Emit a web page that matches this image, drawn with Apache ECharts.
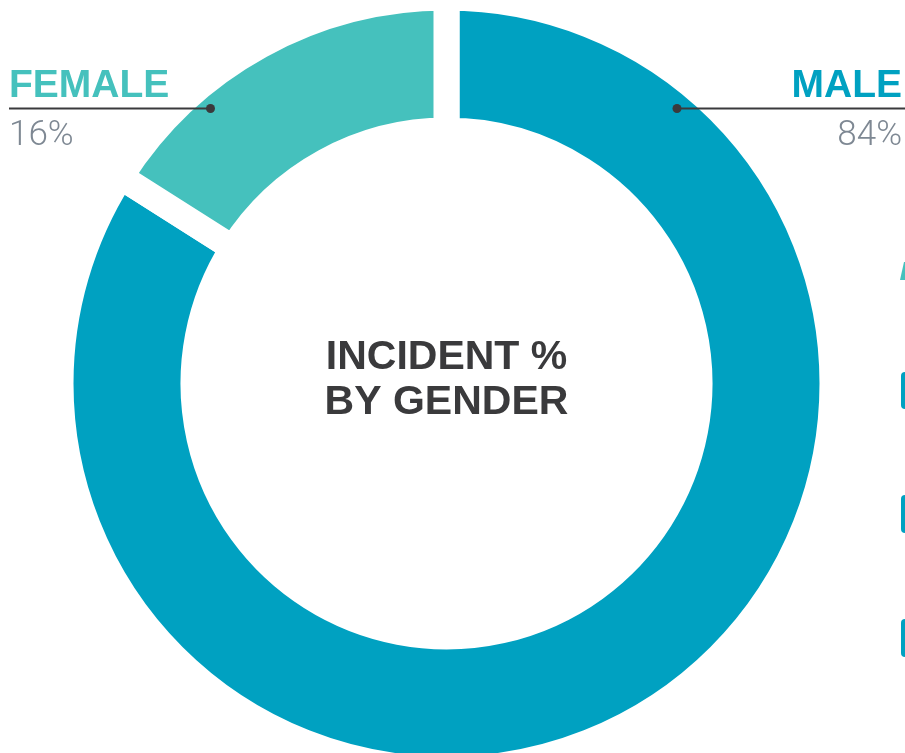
<!DOCTYPE html>
<html>
<head>
<meta charset="utf-8">
<title>Incident % by Gender</title>
<script src="https://cdn.jsdelivr.net/npm/echarts@6/dist/echarts.min.js"></script>
<style>
  html, body { margin: 0; padding: 0; background: #ffffff; }
  #chart { width: 905px; height: 753px; }
</style>
</head>
<body>
<div id="chart"></div>
<script>
// Incident share by gender
const genders = ['MALE', 'FEMALE'];
const shares = [84, 16];
const genderColors = ['#00a1c1', '#45c1bd'];
const centerTitle = ['INCIDENT %', 'BY GENDER'];

const cx = 446.5, cy = 383.5;
const gap = 26;            // white gap between the two slices
const outerR = 373, innerR = 266;

const boldFont = '"Liberation Sans", Arial, sans-serif';
const lightFont = 'Roboto, "Liberation Sans", sans-serif';
const ink = '#3a3a3c';
const grey = '#7e8893';

const chart = echarts.init(document.getElementById('chart'), null, { renderer: 'canvas' });

const pieData = genders.map((g, i) => ({
  name: g,
  value: shares[i],
  itemStyle: { color: genderColors[i] }
}));

// Callout for each slice: name above a leader line, percentage below
function callout(i, side) {
  const left = side === 'left';
  const dotX = left ? 210.5 : 677;
  const lineY = 108.5;
  const edgeX = left ? 9 : 905;
  const textX = left ? 9 : 902;
  return [
    {
      type: 'line',
      shape: { x1: edgeX, y1: lineY, x2: dotX, y2: lineY },
      style: { stroke: ink, lineWidth: 2 },
      z: 10
    },
    {
      type: 'circle',
      shape: { cx: dotX, cy: lineY, r: 4.5 },
      style: { fill: ink },
      z: 10
    },
    {
      type: 'text',
      x: textX, y: 106,
      style: {
        text: genders[i],
        font: 'bold 39px ' + boldFont,
        fill: genderColors[i],
        align: left ? 'left' : 'right',
        verticalAlign: 'bottom'
      },
      z: 10
    },
    {
      type: 'text',
      x: textX, y: 119,
      style: {
        text: shares[i] + '%',
        font: '300 35px ' + lightFont,
        fill: grey,
        align: left ? 'left' : 'right',
        verticalAlign: 'top'
      },
      z: 10
    }
  ];
}

// Edge of the neighbouring panel peeking in at the right
const sideBars = [
  { type: 'rect', shape: { x: 901, y: 372, width: 20, height: 37, r: 4 }, style: { fill: '#00a1c1' } },
  { type: 'rect', shape: { x: 901, y: 495, width: 20, height: 38, r: 4 }, style: { fill: '#00a1c1' } },
  { type: 'rect', shape: { x: 901, y: 619, width: 20, height: 38, r: 4 }, style: { fill: '#00a1c1' } },
  { type: 'polygon', shape: { points: [[904, 262], [910, 262], [910, 280], [900, 280]] }, style: { fill: '#45c1bd' } }
];

chart.setOption({
  backgroundColor: '#ffffff',
  animation: false,
  series: [{
    type: 'pie',
    center: [cx, cy],
    radius: [innerR - gap / 2, outerR + gap / 2],
    startAngle: 90,
    clockwise: true,
    avoidLabelOverlap: false,
    label: { show: false },
    labelLine: { show: false },
    emphasis: { disabled: true },
    itemStyle: { borderColor: '#ffffff', borderWidth: gap },
    data: pieData
  }],
  graphic: [
    ...callout(1, 'left'),
    ...callout(0, 'right'),
    ...sideBars,
    {
      type: 'text',
      x: cx, y: 380,
      style: {
        text: centerTitle.join('\n'),
        font: 'bold 41px ' + boldFont,
        fill: ink,
        align: 'center',
        verticalAlign: 'middle',
        lineHeight: 45
      },
      z: 10
    }
  ]
});
</script>
</body>
</html>
